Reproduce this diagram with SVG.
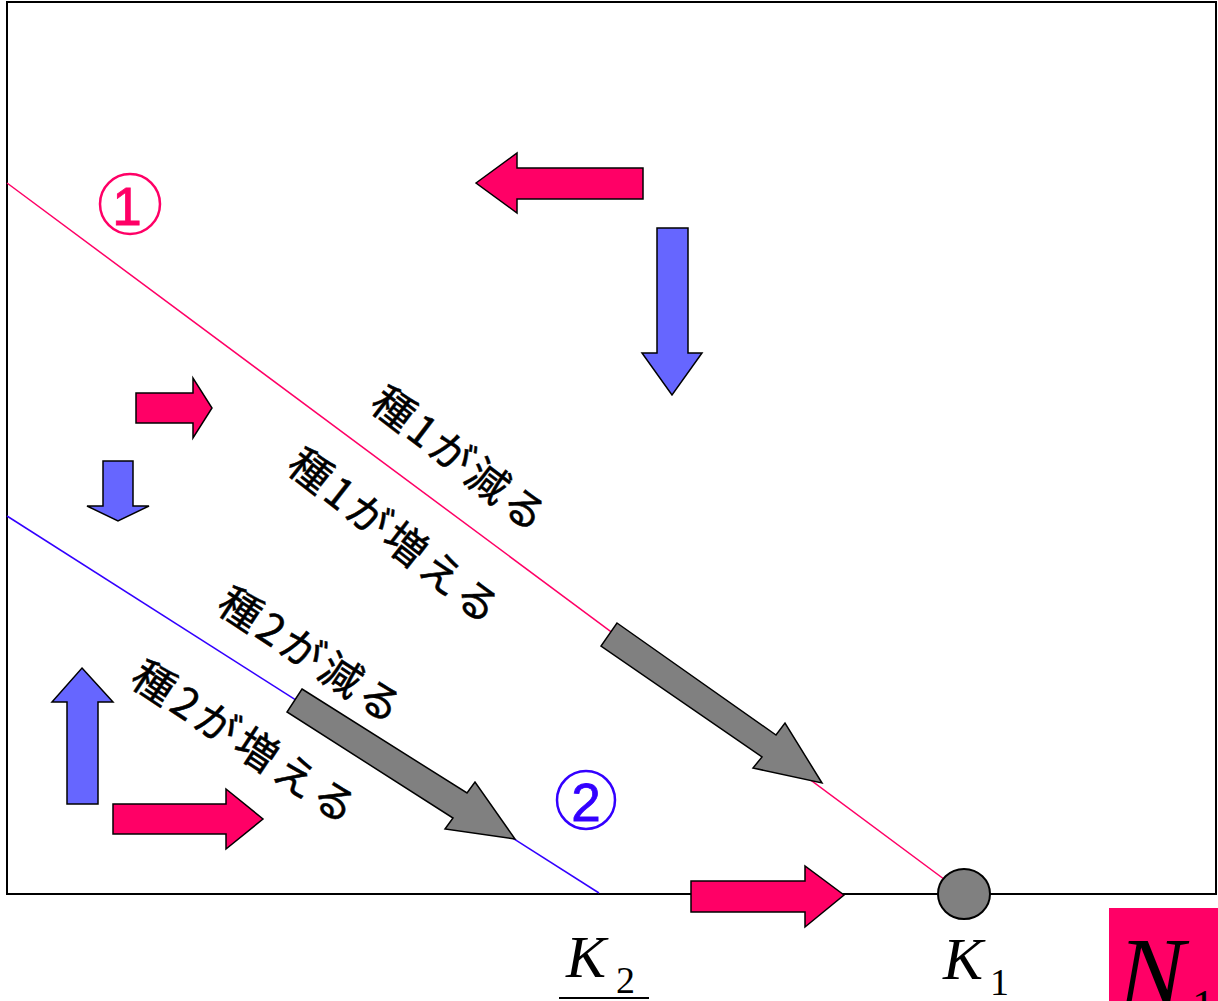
<svg xmlns="http://www.w3.org/2000/svg" width="1218" height="1001" viewBox="0 0 1218 1001">
<style>
.red{fill:#FF0066;stroke:#000;stroke-width:1.5;stroke-linejoin:miter}
.blue{fill:#6666FF;stroke:#000;stroke-width:1.5}
.gray{fill:#808080;stroke:#000;stroke-width:1.5}
.lbl{font-family:"Noto Sans CJK JP","Noto Sans",sans-serif;font-size:42px;fill:#000;stroke:#000;stroke-width:0.5;dominant-baseline:central;text-anchor:middle}
.math{font-family:"Liberation Serif","Times New Roman",serif;fill:#000}
.num{font-family:"Liberation Sans",Arial,sans-serif;font-size:53px;text-anchor:middle;dominant-baseline:central;stroke-width:0.8}
</style>
<rect x="0" y="0" width="1218" height="1001" fill="#fff"/>
<g id="frame">
<rect x="7" y="2" width="1209" height="892" fill="none" stroke="#000" stroke-width="2"/>
</g>
<g id="connectors">
<line x1="7" y1="183" x2="960" y2="891" stroke="#FF0066" stroke-width="1.5"/>
<line x1="7" y1="516" x2="599" y2="893" stroke="#3300FF" stroke-width="1.5"/>
</g>
<g id="isocline1-label">
<circle cx="130" cy="204" r="30" fill="none" stroke="#FF0066" stroke-width="2.5"/>
<text class="num" x="127" y="206" fill="#FF0066" stroke="#FF0066">1</text>
</g>
<g id="isocline2-label">
<circle cx="586" cy="800" r="29" fill="none" stroke="#3300FF" stroke-width="2.5"/>
<text class="num" x="586" y="802" fill="#3300FF" stroke="#3300FF">2</text>
</g>
<g id="arrow-top-left"><polygon class="red" points="476,183 517,153 517,168 643,168 643,199 517,199 517,213"/></g>
<g id="arrow-top-down"><polygon class="blue" points="657,228 688,228 688,353 702,353 672,395 642,353 657,353"/></g>
<g id="arrow-mid-right"><polygon class="red" points="136,393 193,393 193,378 212,408 193,438 193,423 136,423"/></g>
<g id="arrow-mid-down"><polygon class="blue" points="103,461 133,461 133,506 149,506 118,521 87,506 103,506"/></g>
<g id="arrow-low-up"><polygon class="blue" points="82,668 113,702 98,702 98,804 67,804 67,702 52,702"/></g>
<g id="arrow-low-right"><polygon class="red" points="113,804 226,804 226,789 263,819 226,849 226,834 113,834"/></g>
<g id="arrow-axis-right"><polygon class="red" points="691,881 805,881 805,866 844,895 805,927 805,912 691,912"/></g>
<g id="gray-arrow-1"><polygon class="gray" points="617,623 776,735 785,723 822,783 753,768 762,757 601,646"/></g>
<g id="gray-arrow-2"><polygon class="gray" points="302,689 467,793 475,782 515,839 445,829 453,818 287,712"/></g>
<g id="equilibrium-K1"><ellipse cx="964" cy="894" rx="26" ry="25" fill="#808080" stroke="#000" stroke-width="2"/></g>
<g id="labels">
<text class="lbl" transform="translate(461,456) rotate(37.5)" textLength="207" lengthAdjust="spacing">種1が減る</text>
<text class="lbl" transform="translate(396,533) rotate(38)" textLength="254" lengthAdjust="spacing">種1が増える</text>
<text class="lbl" transform="translate(312,652) rotate(33.4)" textLength="209" lengthAdjust="spacing">種2が減る</text>
<text class="lbl" transform="translate(246,739) rotate(33.4)" textLength="258" lengthAdjust="spacing">種2が増える</text>
</g>
<g id="K2">
<text class="math" x="566" y="977" font-size="60" font-style="italic">K</text>
<text class="math" x="616" y="993" font-size="38">2</text>
<line x1="559" y1="998" x2="649" y2="998" stroke="#000" stroke-width="2"/>
</g>
<g id="K1">
<text class="math" x="943" y="979" font-size="60" font-style="italic">K</text>
<text class="math" x="990" y="995" font-size="38">1</text>
</g>
<g id="N1">
<rect x="1109" y="908" width="109" height="93" fill="#FF0066"/>
<text class="math" x="1118" y="1006" font-size="100" font-style="italic">N</text>
<text class="math" x="1192" y="1020" font-size="45">1</text>
</g>
</svg>
